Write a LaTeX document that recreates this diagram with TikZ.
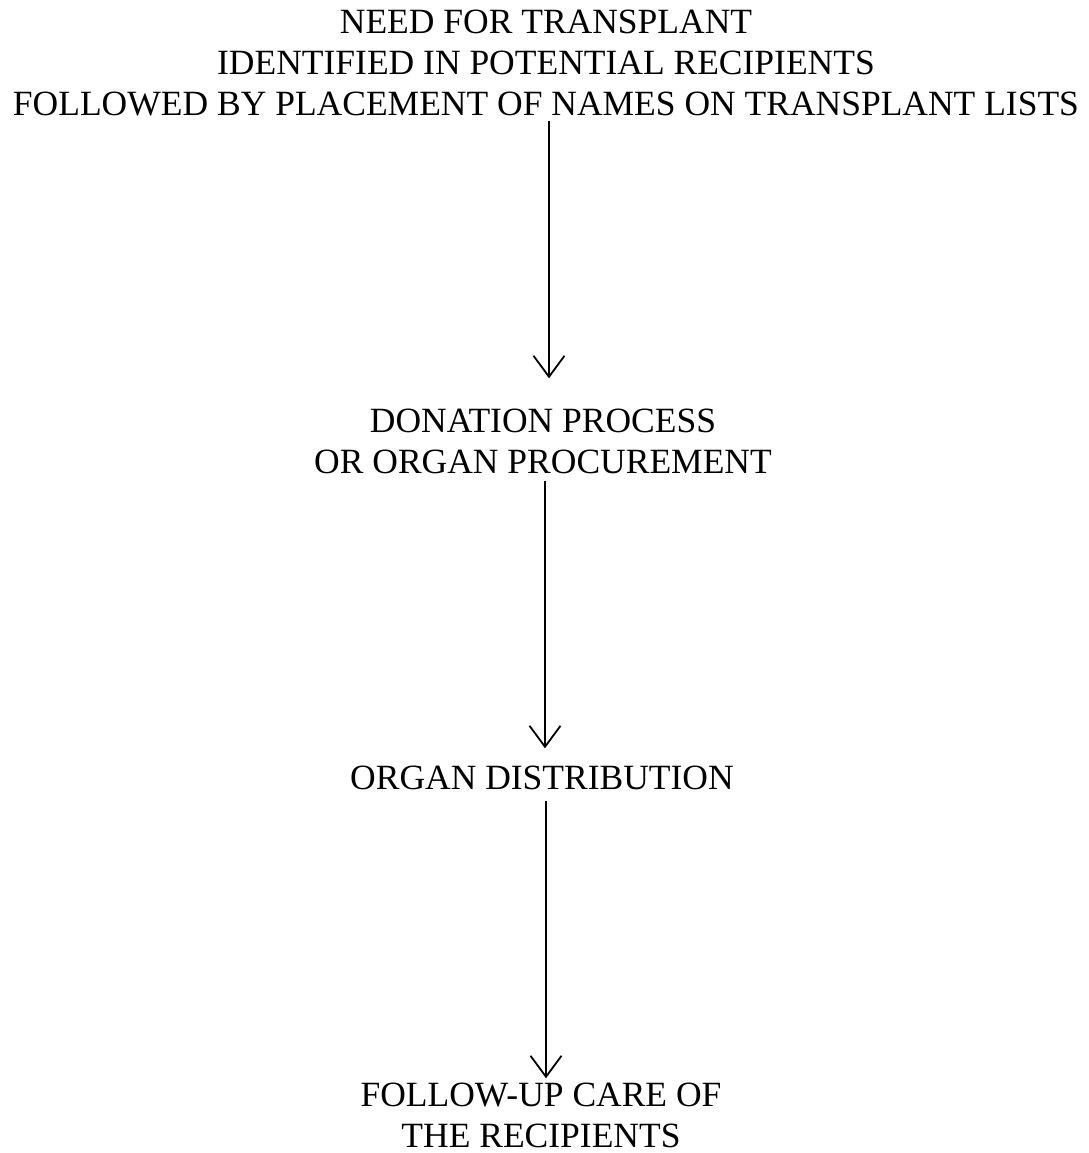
\documentclass[tikz,border=0pt]{standalone}
\usepackage{fontspec}
\setmainfont{Liberation Serif}
\usetikzlibrary{arrows.meta}
\tikzset{
  stage/.style = {align=center, inner sep=0pt, anchor=base,
    font=\fontsize{35.5}{41}\selectfont},% etape du processus
  flow/.style = {-{Straight Barb[length=21pt,width=31pt,line width=1.8pt]},
    line width=1.8pt}% fleche entre deux etapes
}

\begin{document}
\begin{tikzpicture}[x=1pt,y=1pt]
\useasboundingbox (0,0) rectangle (1088,-1153);
\node [stage] (need) at (546,-115.5) {NEED FOR TRANSPLANT\\
  IDENTIFIED IN POTENTIAL RECIPIENTS\\
  FOLLOWED BY PLACEMENT OF NAMES ON TRANSPLANT LISTS};
\node [stage] (donation) at (543,-473.5) {DONATION PROCESS\\
  OR ORGAN PROCUREMENT};
\node [stage] (distribution) at (542,-789.5) {ORGAN DISTRIBUTION};
\node [stage] (followup) at (541,-1147.5) {FOLLOW-UP CARE OF\\
  THE RECIPIENTS};

\draw [flow, shorten <=4.5pt, shorten >=30.5pt] ([xshift=3pt]need.south)
  -- ([xshift=3pt]need.south |- donation.north);
\draw [flow, shorten <=6.5pt, shorten >=17.5pt] ([xshift=2pt]donation.south)
  -- ([xshift=2pt]donation.south |- distribution.north);
\draw [flow, shorten <=10.5pt, shorten >=4.5pt] ([xshift=4pt]distribution.south)
  -- ([xshift=4pt]distribution.south |- followup.north);
\end{tikzpicture}
\end{document}
